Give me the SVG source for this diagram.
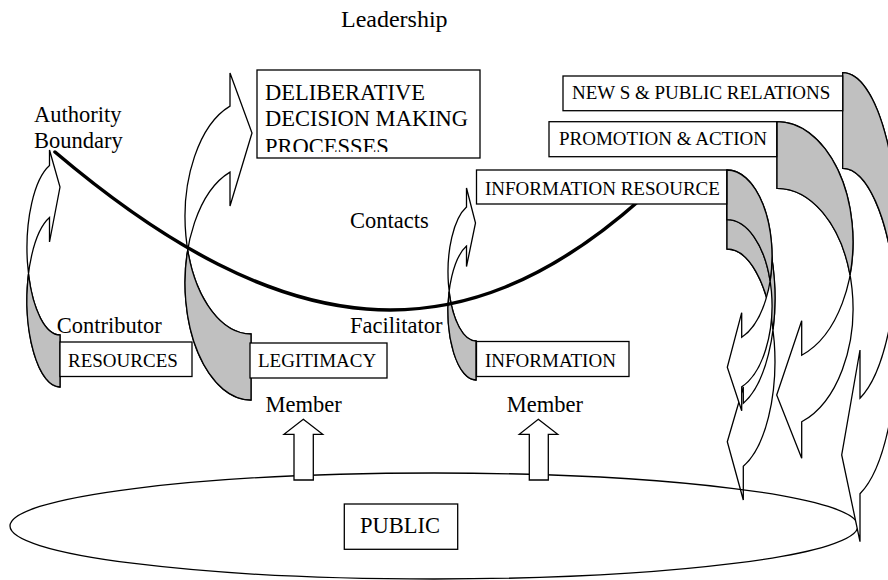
<svg xmlns="http://www.w3.org/2000/svg" width="888" height="580" viewBox="0 0 888 580">
  <style>
    .ln { fill: none; stroke: #000; stroke-width: 1.3; }
    .arw { fill: #fff; stroke: #000; stroke-width: 1.3; stroke-linejoin: miter; }
    .back { fill: #c0c0c0; stroke: #000; stroke-width: 1.3; }
    .box { fill: #fff; stroke: #000; stroke-width: 1.3; }
    .lbl { font-size: 22.5px; fill: #000; }
    .btx { font-size: 19px; fill: #000; }
    .link { fill: none; stroke: #000; stroke-width: 3.5; stroke-linecap: round; }
  </style>
  <defs>
    <clipPath id="deliberativeClip">
      <rect x="257" y="70" width="223" height="82"/>
    </clipPath>
  </defs>
  <rect width="888" height="580" fill="#fff"/>

  <!-- curved arrows on the right: from the outreach boxes down toward the public -->
  <g id="arrow-info-resource-2">
    <path class="arw" d="M727,186 A48,112 0 0 1 743.3,403.3 L743.3,387 L727.3,441.7 L743.3,500 L743.3,466.3 A48,112 0 0 0 727,249 Z"/>
    <path class="back" d="M727,186 A48,112 0 0 1 773.1,329.5 A48,112 0 0 0 727,249 Z"/>
  </g>
  <g id="arrow-info-resource-1">
    <path class="arw" d="M727,170 A45,86 0 0 1 741.7,337.3 L741.7,312.7 L727.3,367.3 L741.7,410.7 L741.7,386.9 A45,86 0 0 0 727,219.6 Z"/>
    <path class="back" d="M727,170 A45,86 0 0 1 770.1,280.8 A45,86 0 0 0 727,219.6 Z"/>
  </g>
  <g id="arrow-promotion">
    <path class="arw" d="M777,121.7 A76,120 0 0 1 801.7,355.2 L801.7,320.7 L776.7,395 L801.7,458.3 L801.7,421.8 A76,120 0 0 0 777,188.3 Z"/>
    <path class="back" d="M777,121.7 A76,120 0 0 1 850,275 A76,120 0 0 0 777,188.3 Z"/>
  </g>

  <!-- the public -->
  <g id="public-ellipse">
    <ellipse class="ln" cx="434" cy="526" rx="424" ry="53"/>
  </g>

  <g id="arrow-news">
    <path class="arw" d="M842.7,72.7 A55,167 0 0 1 860,398.2 L860,350 L841.7,455 L860,541.7 L860,493.8 A55,167 0 0 0 842.7,168.3 Z"/>
    <path class="back" d="M842.7,72.7 A55,167 0 0 1 895.4,287.5 A55,167 0 0 0 842.7,168.3 Z"/>
  </g>

  <!-- curved arrows on the left: from the member inputs up toward leadership -->
  <g id="arrow-resources">
    <path class="arw" d="M60,387 A33,87 0 0 1 49.5,217.5 L49.5,242 L60,187 L49.5,150 L49.5,165.5 A33,87 0 0 0 60,335 Z"/>
    <path class="back" d="M60,387 A33,87 0 0 1 28.5,274 A33,87 0 0 0 60,335 Z"/>
  </g>
  <g id="arrow-legitimacy">
    <path class="arw" d="M251,400 A66,117 0 0 1 230,172.1 L230,206 L252,133 L230,73 L230,106.1 A66,117 0 0 0 251,334 Z"/>
    <path class="back" d="M251,400 A66,117 0 0 1 187.7,250 A66,117 0 0 0 251,334 Z"/>
  </g>
  <g id="arrow-information">
    <path class="arw" d="M476,380 A28,69 0 0 1 466.5,246.1 L466.5,266.5 L475.5,223 L466.5,188 L466.5,207.1 A28,69 0 0 0 476,341 Z"/>
    <path class="back" d="M476,380 A28,69 0 0 1 449.1,291.5 A28,69 0 0 0 476,341 Z"/>
  </g>

  <!-- authority boundary -->
  <g id="connectors">
    <path class="link" d="M55,152 C285,347 460,360 641,199"/>
  </g>

  <g font-family="'Liberation Serif', 'Times New Roman', Times, serif">
    <!-- boxes -->
    <g id="deliberative">
      <rect class="box" x="257" y="70" width="223" height="88"/>
      <g clip-path="url(#deliberativeClip)">
        <text class="lbl" x="265" y="99.5">DELIBERATIVE</text>
        <text class="lbl" x="265" y="125.5">DECISION MAKING</text>
        <text class="lbl" x="265" y="154">PROCESSES</text>
      </g>
    </g>
    <g id="news">
      <rect class="box" x="563" y="76" width="279.7" height="34.7"/>
      <text class="btx" x="572" y="99.3">NEW S &amp; PUBLIC RELATIONS</text>
    </g>
    <g id="promotion">
      <rect class="box" x="549" y="121.7" width="227.7" height="35"/>
      <text class="btx" x="559" y="145">PROMOTION &amp; ACTION</text>
    </g>
    <g id="information-resource">
      <rect class="box" x="476.5" y="170" width="250.2" height="34"/>
      <text class="btx" x="485" y="195">INFORMATION RESOURCE</text>
    </g>
    <g id="resources">
      <rect class="box" x="60" y="342" width="132" height="34.5"/>
      <text class="btx" x="68" y="366.7">RESOURCES</text>
    </g>
    <g id="legitimacy">
      <rect class="box" x="250" y="343" width="137" height="35"/>
      <text class="btx" x="258" y="367">LEGITIMACY</text>
    </g>
    <g id="information">
      <rect class="box" x="476.5" y="341.5" width="152.5" height="35"/>
      <text class="btx" x="485" y="366.7">INFORMATION</text>
    </g>

    <!-- member inputs -->
    <g id="member-arrow-1">
      <path class="arw" d="M303.3,419.3 L322.7,434.3 L313.3,434.3 L313.3,480 L294,480 L294,434.3 L284,434.3 Z"/>
    </g>
    <g id="member-arrow-2">
      <path class="arw" d="M538.3,419.3 L557.7,434.3 L548.3,434.3 L548.3,480 L529.3,480 L529.3,434.3 L519.3,434.3 Z"/>
    </g>
    <g id="public">
      <rect class="box" x="344.3" y="504" width="113.4" height="45.3"/>
      <text class="lbl" x="360" y="533.3">PUBLIC</text>
    </g>

    <!-- free labels -->
    <g id="labels">
      <text class="lbl" x="341" y="27" style="font-size:24px">Leadership</text>
      <text class="lbl" x="34" y="122">Authority</text>
      <text class="lbl" x="34" y="148">Boundary</text>
      <text class="lbl" x="350" y="228">Contacts</text>
      <text class="lbl" x="56.7" y="333">Contributor</text>
      <text class="lbl" x="350" y="333">Facilitator</text>
      <text class="lbl" x="265.5" y="411.7">Member</text>
      <text class="lbl" x="506.7" y="411.7">Member</text>
    </g>
  </g>
</svg>
